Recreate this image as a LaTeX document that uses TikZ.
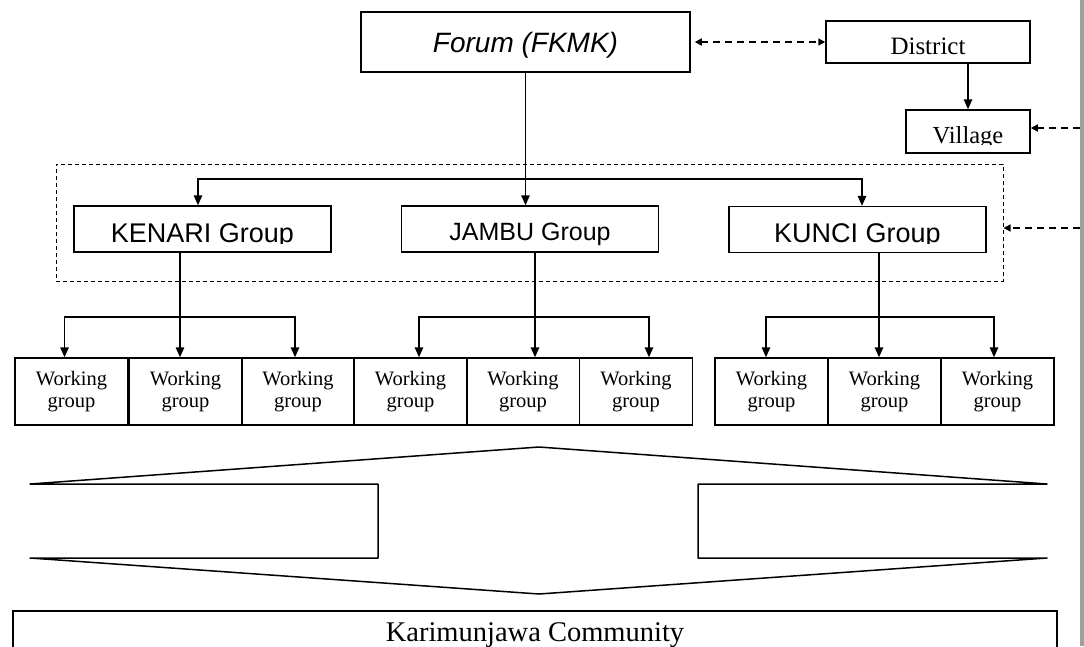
\documentclass[tikz,border=0pt]{standalone}
\usepackage{fontspec}
\setmainfont{Liberation Serif}
\setsansfont{Liberation Sans}
\usetikzlibrary{arrows.meta,positioning}

\tikzset{
  box/.style={draw, line width=1.5pt, inner sep=0pt},
  forumbox/.style={box, minimum width=329pt, minimum height=60pt,
    font=\sffamily\itshape\fontsize{28pt}{32pt}\selectfont, text depth=0pt},
  districtbox/.style={box, minimum width=204pt, minimum height=42pt,
    font=\fontsize{25pt}{30pt}\selectfont, text height=24pt, text depth=0pt},
  villagebox/.style={box, minimum width=124pt, minimum height=43pt},
  groupbox/.style={box, minimum width=257pt, minimum height=46pt},
  grouptext/.style={inner sep=0pt, font=\sffamily\fontsize{27pt}{32pt}\selectfont},
  workbox/.style={box, minimum width=113pt, minimum height=67pt, align=center,
    font=\fontsize{20.5pt}{22pt}\selectfont},
  communitybox/.style={box, minimum width=1044pt, minimum height=49pt,
    font=\fontsize{28.5pt}{32pt}\selectfont},
  container/.style={draw, line width=1pt, dash pattern=on 4pt off 3pt,
    minimum width=947pt, minimum height=117pt},
  plain/.style={line width=1.5pt},
  link/.style={line width=1.5pt, -{Triangle[length=10pt,width=8.5pt]}},
  dashtip/.tip={Triangle[length=7pt,width=7pt]},
  dashlink/.style={line width=1.5pt, dash pattern=on 7pt off 5pt, -dashtip}
}

\begin{document}
\begin{tikzpicture}[x=1pt, y=-1pt]

    \useasboundingbox (0,0) rectangle (1084,646);

    % ------------------ Forum, district and village ------------------
    \node[forumbox] (forum) at (525.5,42) {Forum (FKMK)};
    \node[districtbox] (district) at (928,42) {District};
    \node[villagebox] (village) at (968,131.5) {};
    \begin{scope}
      \clip (village.north west) rectangle ([yshift=9pt]village.south east);
      \node[inner sep=0pt, font=\fontsize{24.5pt}{28pt}\selectfont, anchor=base]
      (villagelabel) at ([yshift=10pt]village.south) {Village};
    \end{scope}

    \draw[dashlink, dashtip-dashtip, shorten <=4pt]
    (forum.east) -- (district.west);
    \draw[link] (district.south -| village.north) -- (village.north);

    % ------------------ The three groups ------------------
    \node[container] (groups) at (529.5,222.5) {};

    \node[groupbox] (kenari) at (202.5,229) {};
    \node[groupbox, font=\sffamily\fontsize{25pt}{30pt}\selectfont,
      text height=22pt, text depth=0pt] (jambu) at (530,229) {JAMBU Group};
    \node[groupbox] (kunci) at (857.5,229.5) {};
    \begin{scope}
      \clip (kenari.north west) rectangle ([yshift=9pt]kenari.south east);
      \node[grouptext, anchor=base] (kenarilabel)
      at ([yshift=10pt]kenari.south) {KENARI Group};
    \end{scope}
    \begin{scope}
      \clip (kunci.north west) rectangle ([yshift=10pt]kunci.south east);
      \node[grouptext, anchor=base] (kuncilabel)
      at ([yshift=11pt]kunci.south) {KUNCI Group};
    \end{scope}

    \coordinate (topbus) at (525.5,179);
    \draw[link] (forum.south) -- (forum.south |- jambu.north);
    \draw[link] (topbus) -| ([xshift=-4.5pt]kenari.north);
    \draw[link] (topbus) -| ([xshift=4.5pt]kunci.north);

    % ------------------ Working groups ------------------
    \foreach \x [count=\i] in {71.5,185.5,298,410.5,523,636,771.5,884.5,997.5}
      \node[workbox] (wg\i) at (\x,391.5) {Working\\group};

    \coordinate (kenaribus) at (180,317);
    \coordinate (jambubus) at (535,317);
    \coordinate (kuncibus) at (879,317);

    \draw[link] (kenari.south -| kenaribus) -- (kenaribus |- wg2.north);
    \draw[link] (kenaribus) -| ([xshift=-7pt]wg1.north);
    \draw[link] (kenaribus) -| ([xshift=-3pt]wg3.north);

    \draw[link] (jambu.south -| jambubus) -- (jambubus |- wg5.north);
    \draw[link] (jambubus) -| ([xshift=8.5pt]wg4.north);
    \draw[link] (jambubus) -| ([xshift=13pt]wg6.north);

    \draw[link] (kunci.south -| kuncibus) -- (kuncibus |- wg8.north);
    \draw[link] (kuncibus) -| ([xshift=-5.5pt]wg7.north);
    \draw[link] (kuncibus) -| ([xshift=-3.5pt]wg9.north);

    % ------------------ Double arrow and community ------------------
    \draw[plain, line join=round]
    (30,484) -- (539,447) -- (1047,484) -- (698,484) -- (698,558) --
    (1047,558) -- (539,594) -- (30,558) -- (378,558) -- (378,484) -- cycle;

    \node[communitybox, anchor=north] (community) at (535,610)
    {Karimunjawa Community};

    % ------------------ Links from the right margin ------------------
    \coordinate (villagein) at (1080,128);
    \coordinate (groupsin) at (1080,228);
    \draw[dashlink] (villagein) -- (villagein -| village.east);
    \draw[dashlink] (groupsin) -- (groupsin -| groups.east);

    \fill[gray!75] (1080,0) rectangle (1084,646);

\end{tikzpicture}
\end{document}
